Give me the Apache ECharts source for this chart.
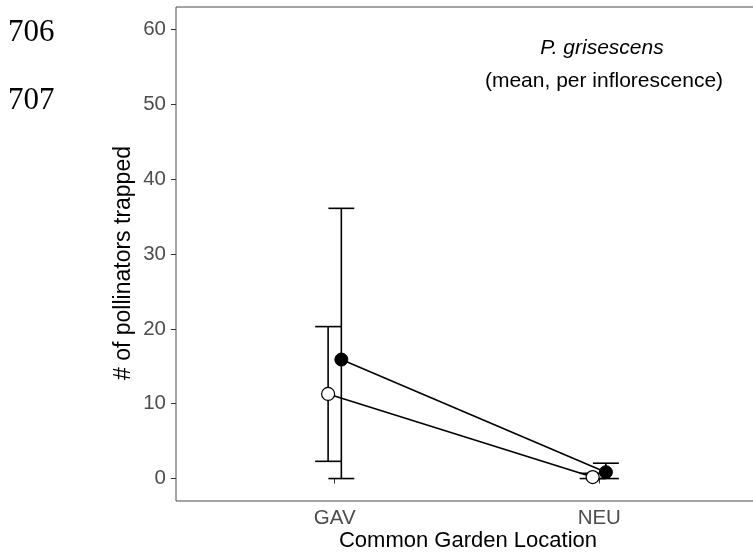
<!DOCTYPE html>
<html>
<head>
<meta charset="utf-8">
<script src="https://cdn.jsdelivr.net/npm/echarts@6/dist/echarts.min.js"></script>
<style>
  html, body { margin: 0; padding: 0; background: #fff; }
  #chart { width: 753px; height: 557px; }
</style>
</head>
<body>
<div id="chart"></div>
<script>
// Garden locations on the x axis
const categories = ['GAV', 'NEU'];
// Open-circle group: mean and error-bar limits per location
const openMean = [11.3, 0.2];
const openLow = [2.3, 0];
const openHigh = [20.3, 0.7];
// Filled-circle group: mean and error-bar limits per location
const filledMean = [15.9, 0.85];
const filledLow = [0, 0];
const filledHigh = [36.1, 2.05];
// Y tick labels
const yTicks = [0, 10, 20, 30, 40, 50, 60];

const DODGE = 0.025;   // horizontal offset of the two groups
const CAP = 0.049;     // half-width of the error-bar caps (x units)
const SANS = '"Liberation Sans", Arial, Helvetica, sans-serif';
const SERIF = '"Liberation Serif", "Times New Roman", serif';

function groupPoints(means, offset) {
  return means.map((m, i) => [i + 1 + offset, m]);
}
function groupBars(lows, highs, offset) {
  return lows.map((lo, i) => [i + 1 + offset, lo, highs[i]]);
}

function renderErrorBar(params, api) {
  const x = api.value(0), lo = api.value(1), hi = api.value(2);
  const top = api.coord([x, hi]);
  const bot = api.coord([x, lo]);
  const half = api.coord([x + CAP, hi])[0] - top[0];
  const style = { stroke: '#000', lineWidth: 1.6 };
  return {
    type: 'group',
    children: [
      { type: 'line', shape: { x1: top[0], y1: top[1], x2: bot[0], y2: bot[1] }, style },
      { type: 'line', shape: { x1: top[0] - half, y1: top[1], x2: top[0] + half, y2: top[1] }, style },
      { type: 'line', shape: { x1: bot[0] - half, y1: bot[1], x2: bot[0] + half, y2: bot[1] }, style }
    ]
  };
}

const chart = echarts.init(document.getElementById('chart'), null, { renderer: 'canvas' });

chart.setOption({
  animation: false,
  backgroundColor: '#fff',
  grid: {
    left: 176, top: 7, right: -5, bottom: 56,
    show: true, borderColor: '#4a4a4a', borderWidth: 1,
    outerBoundsMode: 'none'
  },
  xAxis: {
    type: 'value', min: 0.4, max: 2.6,
    splitLine: { show: false },
    axisLine: { show: false },
    axisTick: { show: true, customValues: [1, 2], length: 5, lineStyle: { color: '#333' } },
    axisLabel: {
      customValues: [1, 2],
      formatter: v => categories[Math.round(v) - 1],
      color: '#4d4d4d', fontSize: 20.5, fontFamily: SANS, margin: 7
    }
  },
  yAxis: {
    type: 'value', min: -3, max: 63,
    splitLine: { show: false },
    axisLine: { show: false },
    axisTick: { show: true, customValues: yTicks, length: 5, lineStyle: { color: '#333' } },
    axisLabel: {
      customValues: yTicks,
      color: '#4d4d4d', fontSize: 20.5, fontFamily: SANS, margin: 10
    }
  },
  series: [
    {
      type: 'custom', renderItem: renderErrorBar,
      data: groupBars(openLow, openHigh, -DODGE), z: 2, silent: true
    },
    {
      type: 'custom', renderItem: renderErrorBar,
      data: groupBars(filledLow, filledHigh, DODGE), z: 2, silent: true
    },
    {
      type: 'line', data: groupPoints(openMean, -DODGE), z: 3,
      symbol: 'circle', symbolSize: 13,
      lineStyle: { color: '#000', width: 1.6 },
      itemStyle: { color: '#fff', borderColor: '#000', borderWidth: 1.2 }
    },
    {
      type: 'line', data: groupPoints(filledMean, DODGE), z: 3,
      symbol: 'circle', symbolSize: 13,
      lineStyle: { color: '#000', width: 1.6 },
      itemStyle: { color: '#000', borderColor: '#000', borderWidth: 1 }
    }
  ],
  graphic: [
    { type: 'text', x: 8, y: 33, style: { text: '706', font: '31px ' + SERIF, fill: '#000', align: 'left', verticalAlign: 'middle' } },
    { type: 'text', x: 8, y: 101, style: { text: '707', font: '31px ' + SERIF, fill: '#000', align: 'left', verticalAlign: 'middle' } },
    { type: 'text', x: 602, y: 48, style: { text: 'P. grisescens', font: 'italic 21px ' + SANS, fill: '#000', align: 'center', verticalAlign: 'middle' } },
    { type: 'text', x: 604, y: 81, style: { text: '(mean, per inflorescence)', font: '21px ' + SANS, fill: '#000', align: 'center', verticalAlign: 'middle' } },
    { type: 'text', x: 468, y: 541, style: { text: 'Common Garden Location', font: '22px ' + SANS, fill: '#000', align: 'center', verticalAlign: 'middle' } },
    { type: 'text', x: 124, y: 263, rotation: Math.PI / 2, style: { text: '# of pollinators trapped', font: '23px ' + SANS, fill: '#000', align: 'center', verticalAlign: 'middle' } }
  ]
});
</script>
</body>
</html>
